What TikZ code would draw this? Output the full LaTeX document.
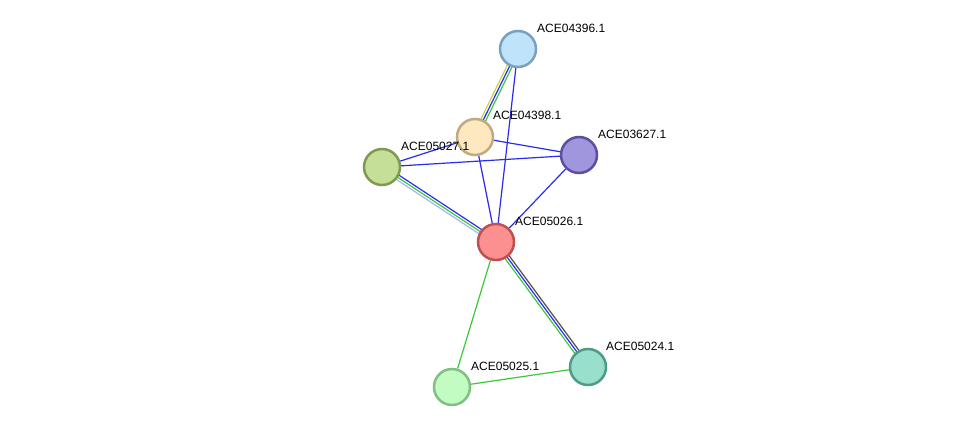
\documentclass[tikz,border=0pt]{standalone}
\usepackage{fontspec}
\setmainfont{Liberation Sans}
\usetikzlibrary{calc,backgrounds}
\definecolor{eblue}{HTML}{2B2BF0}
\definecolor{egreen}{HTML}{3CC83C}
\definecolor{eyellow}{HTML}{C8D24A}
\definecolor{elav}{HTML}{A8B4F0}
\definecolor{edark}{HTML}{505050}
\tikzset{
  prot/.style={circle, minimum size=36pt, inner sep=0pt, line width=2.5pt},
  lab/.style={anchor=west, inner sep=0pt, font=\fontsize{12}{14}\selectfont},
  edge/.style={line width=1.2pt},
}
\newcommand{\pline}[4]{% color, offset, from, to
  \draw[edge,#1] ($(#3.center)!#2!90:(#4.center)$) -- ($(#4.center)!#2!-90:(#3.center)$);}
\begin{document}
\begin{tikzpicture}[x=1pt,y=-1pt]
\useasboundingbox (0,0) rectangle (975,433);
\node[prot, fill={rgb,255:red,191;green,227;blue,250}, draw={rgb,255:red,122;green,160;blue,192}] (n96) at (518,49) {};
\node[prot, fill={rgb,255:red,253;green,232;blue,192}, draw={rgb,255:red,192;green,170;blue,128}] (n98) at (475,137) {};
\node[prot, fill={rgb,255:red,197;green,223;blue,152}, draw={rgb,255:red,127;green,154;blue,80}] (n27) at (382,167) {};
\node[prot, fill={rgb,255:red,160;green,150;blue,221}, draw={rgb,255:red,90;green,80;blue,160}] (n3627) at (579,155) {};
\node[prot, fill={rgb,255:red,252;green,144;blue,144}, draw={rgb,255:red,192;green,80;blue,80}] (n26) at (496,242) {};
\node[prot, fill={rgb,255:red,152;green,223;blue,204}, draw={rgb,255:red,80;green,154;blue,136}] (n24) at (588,367) {};
\node[prot, fill={rgb,255:red,194;green,252;blue,194}, draw={rgb,255:red,128;green,192;blue,128}] (n25) at (452,387) {};
\begin{pgfonlayer}{background}
  \pline{eyellow}{-2.5pt}{n96}{n98}
  \pline{eblue}{0pt}{n96}{n98}
  \pline{egreen}{2.5pt}{n96}{n98}
  \draw[edge,eblue] (n96) -- (n26);
  \draw[edge,eblue] (n98) -- (n26);
  \draw[edge,eblue] (n98) -- (n3627);
  \draw[edge,eblue] (n98) -- (n27);
  \draw[edge,eblue] (n27) -- (n3627);
  \draw[edge,eblue] (n3627) -- (n26);
  \pline{eblue}{2.5pt}{n27}{n26}
  \pline{egreen}{0pt}{n27}{n26}
  \pline{elav}{-2.5pt}{n27}{n26}
  \pline{edark}{2.5pt}{n26}{n24}
  \pline{eblue}{0pt}{n26}{n24}
  \pline{egreen}{-2.5pt}{n26}{n24}
  \draw[edge,egreen] (n26) -- (n25);
  \draw[edge,egreen] (n25) -- (n24);
\end{pgfonlayer}
\node[lab] (l96) at (537,28) {ACE04396.1};
\node[lab] (l98) at (493,115) {ACE04398.1};
\node[lab] (l27) at (401,146) {ACE05027.1};
\node[lab] (l3627) at (598,134) {ACE03627.1};
\node[lab] (l26) at (515,221) {ACE05026.1};
\node[lab] (l24) at (606,346) {ACE05024.1};
\node[lab] (l25) at (471,366) {ACE05025.1};
\end{tikzpicture}
\end{document}
